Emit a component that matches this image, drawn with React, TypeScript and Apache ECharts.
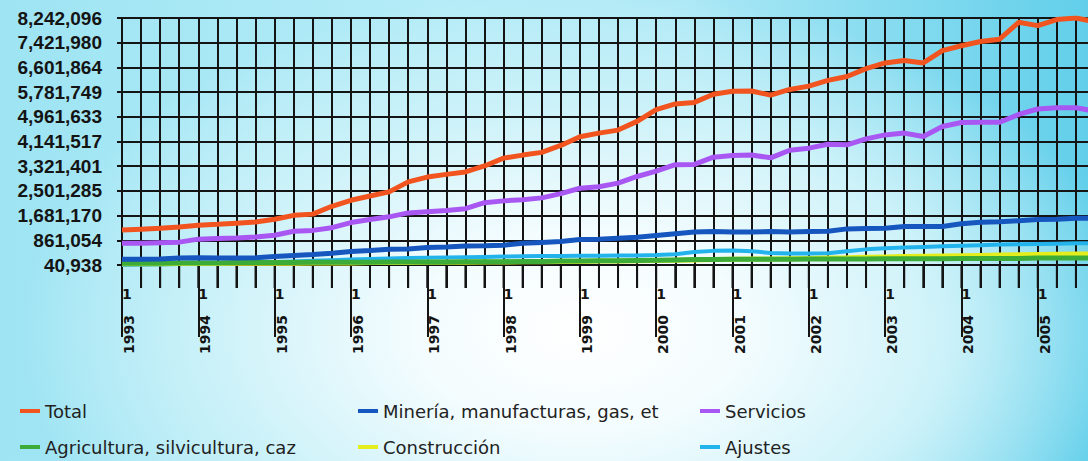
import { useEffect, useRef } from "react";
import * as echarts from "echarts";

const YEARS = [1993, 1994, 1995, 1996, 1997, 1998, 1999, 2000, 2001, 2002, 2003, 2004, 2005];
const QUARTERS = [1, 2, 3, 4];
const CATEGORIES = YEARS.flatMap((y) => QUARTERS.map((q) => `${y}-${q}`));

const Y_TICKS = [40938, 861054, 1681170, 2501285, 3321401, 4141517, 4961633, 5781749, 6601864, 7421980, 8242096];

const TOTAL = [
  1200000, 1230000, 1260000, 1300000, 1360000, 1390000, 1430000, 1470000, 1560000, 1690000, 1730000, 1990000,
  2190000, 2330000, 2470000, 2800000, 2960000, 3050000, 3130000, 3330000, 3590000, 3690000, 3780000, 4010000,
  4300000, 4420000, 4520000, 4810000, 5200000, 5390000, 5440000, 5710000, 5810000, 5820000, 5680000, 5870000,
  5980000, 6170000, 6300000, 6560000, 6750000, 6830000, 6750000, 7160000, 7320000, 7460000, 7540000, 8100000,
  7990000, 8190000, 8240000, 8120000,
];
const SERVICIOS = [
  760000, 760000, 780000, 800000, 900000, 920000, 940000, 970000, 1030000, 1160000, 1190000, 1280000,
  1450000, 1550000, 1640000, 1770000, 1810000, 1850000, 1910000, 2110000, 2170000, 2210000, 2270000, 2410000,
  2590000, 2640000, 2760000, 2980000, 3160000, 3370000, 3380000, 3620000, 3680000, 3690000, 3600000, 3850000,
  3920000, 4050000, 4030000, 4230000, 4360000, 4420000, 4310000, 4640000, 4770000, 4780000, 4780000, 5040000,
  5220000, 5260000, 5260000, 5150000,
];
const MINERIA = [
  230000, 230000, 240000, 270000, 280000, 270000, 270000, 280000, 320000, 360000, 390000, 430000,
  490000, 520000, 560000, 570000, 620000, 640000, 670000, 680000, 700000, 760000, 790000, 820000,
  890000, 900000, 930000, 960000, 1020000, 1080000, 1140000, 1150000, 1140000, 1140000, 1150000, 1140000,
  1150000, 1160000, 1240000, 1250000, 1260000, 1320000, 1320000, 1320000, 1410000, 1460000, 1480000, 1510000,
  1550000, 1560000, 1590000, 1600000,
];
const AGRICULTURA = [
  100000, 100000, 100000, 110000, 110000, 110000, 120000, 120000, 120000, 120000, 130000, 130000,
  130000, 130000, 140000, 140000, 140000, 140000, 150000, 150000, 150000, 160000, 160000, 170000,
  170000, 180000, 180000, 190000, 200000, 210000, 220000, 220000, 230000, 230000, 230000, 230000,
  240000, 240000, 240000, 240000, 250000, 250000, 250000, 250000, 260000, 260000, 260000, 260000,
  270000, 270000, 270000, 270000,
];
const CONSTRUCCION = [
  80000, 80000, 80000, 90000, 90000, 90000, 100000, 100000, 100000, 100000, 110000, 110000,
  110000, 120000, 120000, 120000, 130000, 130000, 130000, 140000, 140000, 150000, 150000, 160000,
  160000, 170000, 170000, 180000, 190000, 200000, 210000, 220000, 230000, 240000, 240000, 250000,
  260000, 270000, 280000, 300000, 310000, 320000, 330000, 340000, 350000, 360000, 370000, 380000,
  390000, 400000, 410000, 410000,
];
const AJUSTES = [
  40000, 50000, 60000, 70000, 90000, 100000, 110000, 120000, 140000, 160000, 180000, 200000,
  220000, 240000, 260000, 270000, 280000, 290000, 300000, 310000, 320000, 330000, 340000, 340000,
  350000, 350000, 360000, 360000, 370000, 400000, 470000, 510000, 520000, 500000, 440000, 420000,
  420000, 430000, 500000, 560000, 600000, 620000, 640000, 660000, 680000, 700000, 720000, 730000,
  740000, 750000, 760000, 770000,
];

const NAMES = {
  total: "Total",
  mineria: "Minería, manufacturas, gas, et",
  servicios: "Servicios",
  agri: "Agricultura, silvicultura, caz",
  constr: "Construcción",
  ajustes: "Ajustes",
};

const INK = "#141414";

export default function App() {
  const ref = useRef<HTMLDivElement>(null);

  useEffect(() => {
    if (!ref.current) return;
    const chart = echarts.init(ref.current, undefined, { renderer: "svg" });
    const isQ1 = (v: string) => String(v).endsWith("-1");
    const onlyQ1 = (_i: number, v: string) => isQ1(v);
    const line = (name: string, data: number[], color: string, width = 5) => ({
      name,
      type: "line",
      data,
      color,
      showSymbol: false,
      symbol: "none",
      lineStyle: { color, width },
      xAxisIndex: 0,
      yAxisIndex: 0,
    });
    const legendItem = (name: string, left: number, top: number) => ({
      left,
      top,
      data: [name],
      icon: "rect",
      itemWidth: 20,
      itemHeight: 4,
      selectedMode: false,
      padding: 0,
      textStyle: { fontFamily: "DejaVu Sans", fontSize: 18, color: "#222" },
    });
    const tickStyle = { color: INK, width: 2 };
    const catAxis = (extra: any) => ({
      type: "category",
      data: CATEGORIES,
      boundaryGap: false,
      position: "bottom",
      ...extra,
    });
    chart.setOption({
      animation: false,
      backgroundColor: "transparent",
      grid: [
        { left: 122, right: 5, top: 18, bottom: 196, containLabel: false },
        // thin strip under the plot that carries the quarterly tick marks
        { left: 122, right: 5, top: 265, bottom: 173, containLabel: false },
      ],
      legend: [
        legendItem(NAMES.total, 20, 402),
        legendItem(NAMES.agri, 20, 438),
        legendItem(NAMES.mineria, 358, 402),
        legendItem(NAMES.constr, 358, 438),
        legendItem(NAMES.servicios, 700, 402),
        legendItem(NAMES.ajustes, 700, 438),
      ],
      xAxis: [
        catAxis({
          gridIndex: 0,
          axisLine: { show: true, onZero: false, lineStyle: tickStyle },
          axisTick: { show: false },
          axisLabel: { show: false },
          splitLine: { show: true, interval: 0, lineStyle: tickStyle },
        }),
        catAxis({
          gridIndex: 0,
          axisLine: { show: false, onZero: false },
          axisTick: { show: true, interval: onlyQ1, length: 72, lineStyle: tickStyle },
          axisLabel: {
            interval: onlyQ1,
            formatter: (v: string) => (isQ1(v) ? v.split("-")[0] : ""),
            rotate: 90,
            margin: 50,
            verticalAlign: "top",
            fontFamily: "DejaVu Sans",
            fontWeight: "bold",
            fontSize: 14,
            color: INK,
          },
          splitLine: { show: false },
        }),
        catAxis({
          gridIndex: 0,
          axisLine: { show: false, onZero: false },
          axisTick: { show: true, interval: onlyQ1, length: 23, lineStyle: tickStyle },
          axisLabel: {
            interval: onlyQ1,
            formatter: (v: string) => (isQ1(v) ? "1" : ""),
            align: "left",
            margin: 22,
            fontFamily: "DejaVu Sans",
            fontWeight: "bold",
            fontSize: 14,
            color: INK,
          },
          splitLine: { show: false },
        }),
        catAxis({
          gridIndex: 1,
          axisLine: { show: false, onZero: false },
          axisTick: { show: false },
          axisLabel: { show: false },
          splitLine: { show: true, interval: 0, lineStyle: tickStyle },
        }),
      ],
      yAxis: [
        {
          gridIndex: 0,
          type: "value",
          min: Y_TICKS[0],
          max: Y_TICKS[Y_TICKS.length - 1],
          axisLine: { show: true, lineStyle: tickStyle },
          axisTick: { show: true, length: 5, customValues: Y_TICKS, lineStyle: tickStyle },
          axisLabel: {
            customValues: Y_TICKS,
            formatter: (v: number) => Math.round(v).toLocaleString("en-US"),
            margin: 20,
            fontFamily: "Liberation Sans",
            fontWeight: "bold",
            fontSize: 19,
            color: INK,
          },
          splitLine: { show: true, lineStyle: tickStyle },
        },
        {
          gridIndex: 1,
          type: "value",
          min: 0,
          max: 1,
          show: false,
          splitLine: { show: false },
        },
      ],
      series: [
        {
          // quarterly tick marks, positioned through the strip's category axis
          type: "custom",
          name: "quarter-ticks",
          xAxisIndex: 3,
          yAxisIndex: 1,
          silent: true,
          z: 3,
          data: CATEGORIES.map((c) => [c, 1]),
          renderItem: (_params: any, api: any) => {
            const top = api.coord([api.value(0), 1]);
            const bottom = api.coord([api.value(0), 0]);
            return {
              type: "line",
              shape: { x1: top[0], y1: top[1], x2: bottom[0], y2: bottom[1] },
              style: { stroke: INK, lineWidth: 2 },
            };
          },
        },
        line(NAMES.ajustes, AJUSTES, "#22b2ec", 4),
        line(NAMES.constr, CONSTRUCCION, "#e4ee1c", 5),
        line(NAMES.agri, AGRICULTURA, "#3dab38", 5),
        line(NAMES.mineria, MINERIA, "#1656bf", 5),
        line(NAMES.servicios, SERVICIOS, "#a957f2", 5),
        line(NAMES.total, TOTAL, "#f2541f", 5),
      ],
    });
    return () => chart.dispose();
  }, []);

  return (
    <div
      style={{
        position: "fixed",
        left: 0,
        top: 0,
        width: 1088,
        height: 461,
        overflow: "hidden",
        background:
          "radial-gradient(ellipse 560px 340px at 580px 330px, #ffffff 0%, #f3fcfe 30%, #cdf2f9 65%, rgba(150,224,242,0) 100%), linear-gradient(90deg, #9ee4f3 0%, #b4ecf7 40%, #aee9f6 62%, #62cfea 100%)",
      }}
    >
      <div ref={ref} style={{ position: "absolute", left: 0, top: 0, width: 1100, height: 461 }} />
    </div>
  );
}
